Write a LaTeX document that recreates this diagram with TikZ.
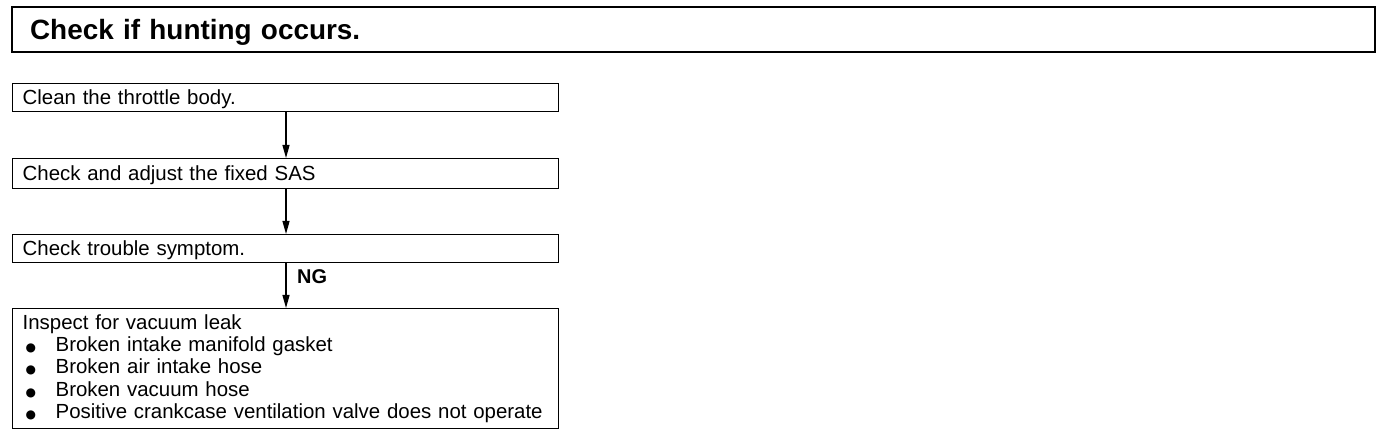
\documentclass[tikz,border=0pt]{standalone}
\usepackage{fontspec}
\setmainfont{Liberation Sans}
\newfontfamily\bodyfont[WordSpace=1.8]{Liberation Sans}
\newfontfamily\dejavu{DejaVu Sans}
\usetikzlibrary{arrows.meta}
\newcommand{\blt}{\makebox[33bp][l]{\hspace{3bp}{\dejavu\fontsize{12}{12}\selectfont ●}}}
\tikzset{
  box/.style={draw, line width=1.3bp, anchor=north west, minimum width=546bp,
    inner xsep=10bp, inner ysep=0bp, text width=526bp, align=left,
    font=\bodyfont\fontsize{20.5}{22.5}\selectfont},
  titlebox/.style={draw, line width=2.2bp, anchor=north west, minimum width=1363bp,
    minimum height=45bp, inner xsep=18bp, inner ysep=0bp, text width=1327bp, align=left,
    text height=20.3bp, text depth=0bp, font=\bfseries\fontsize{28}{30}\selectfont},
  arr/.style={line width=1.2bp, -{Triangle[length=13bp,width=7bp]}},
  lbl/.style={font=\bfseries\fontsize{20}{22}\selectfont, inner sep=0bp}
}
\begin{document}
\begin{tikzpicture}[x=1bp, y=-1bp]
\useasboundingbox (0,0) rectangle (1392,436);
\node[titlebox] (title) at (11,6) {Check if hunting occurs.};
\node[box, minimum height=28bp, text height=14.5bp, text depth=0bp] (b1) at (12,83) {Clean the throttle body.};
\node[box, minimum height=30bp, text height=14.5bp, text depth=0bp] (b2) at (12,158) {Check and adjust the fixed SAS};
\node[box, minimum height=28bp, text height=14.5bp, text depth=0bp] (b3) at (12,234) {Check trouble symptom.};
\node[box, minimum height=120bp] (b4) at (12,308) {Inspect for vacuum leak\\
\blt Broken intake manifold gasket\\
\blt Broken air intake hose\\
\blt Broken vacuum hose\\
\blt Positive crankcase ventilation valve does not operate};
\coordinate (ax) at (286,0);
\draw[arr] (b1.south -| ax) -- (b2.north -| ax);
\draw[arr] (b2.south -| ax) -- (b3.north -| ax);
\draw[arr] (b3.south -| ax) -- (b4.north -| ax);
\node[lbl, anchor=west] (ng) at (297,277) {NG};
\end{tikzpicture}
\end{document}
